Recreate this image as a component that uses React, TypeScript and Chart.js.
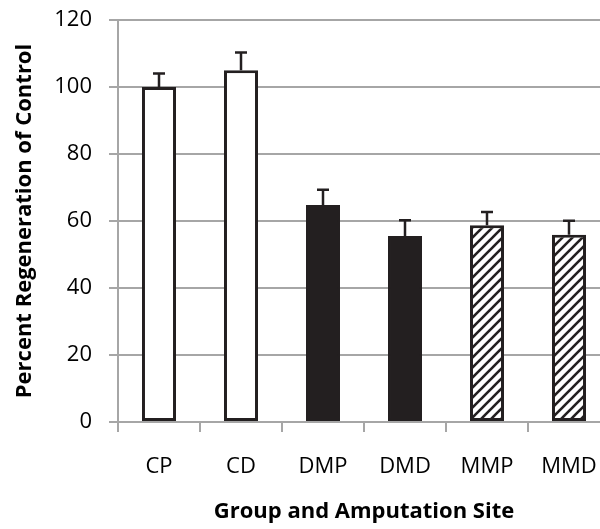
import React, { useEffect, useRef } from "react";
import { Chart, registerables } from "chart.js";

Chart.register(...registerables);

const categories = ["CP", "CD", "DMP", "DMD", "MMP", "MMD"];
const values = [100, 105, 64.8, 55.5, 58.7, 55.9];
const errors = [4, 5.3, 4.5, 4.7, 4, 4.2];
const fillKinds = ["white", "white", "black", "black", "hatch", "hatch"];
const yTitle = "Percent Regeneration of Control";
const xTitle = "Group and Amputation Site";

const FONT = "'Open Sans', sans-serif";
const DARK = "#231f20";
const GRID = "#a6a6a6";

function makeHatch(): CanvasPattern | string {
  const c = document.createElement("canvas");
  c.width = 10;
  c.height = 10;
  const g = c.getContext("2d");
  if (!g) return "#fff";
  g.fillStyle = "#fff";
  g.fillRect(0, 0, 10, 10);
  g.strokeStyle = DARK;
  g.lineWidth = 2.6;
  g.lineCap = "square";
  const seg = (x1: number, y1: number, x2: number, y2: number) => {
    g.beginPath();
    g.moveTo(x1, y1);
    g.lineTo(x2, y2);
    g.stroke();
  };
  seg(0, 10, 10, 0);
  seg(-5, 5, 5, -5);
  seg(5, 15, 15, 5);
  const p = g.createPattern(c, "repeat");
  return p || "#fff";
}

const errorBarPlugin = {
  id: "errorBars",
  afterDatasetsDraw(chart: any) {
    const ctx = chart.ctx;
    const meta = chart.getDatasetMeta(0);
    const y = chart.scales.y;
    ctx.save();
    ctx.strokeStyle = DARK;
    ctx.lineWidth = 2.5;
    meta.data.forEach((bar: any, i: number) => {
      const top = y.getPixelForValue(values[i]);
      const cap = y.getPixelForValue(values[i] + errors[i]);
      ctx.beginPath();
      ctx.moveTo(bar.x, top);
      ctx.lineTo(bar.x, cap);
      ctx.moveTo(bar.x - 6, cap);
      ctx.lineTo(bar.x + 6, cap);
      ctx.stroke();
    });
    ctx.restore();
  },
};

export default function App() {
  const ref = useRef<HTMLCanvasElement | null>(null);
  useEffect(() => {
    if (!ref.current) return;
    const hatch = makeHatch();
    const bg = fillKinds.map((k) => (k === "white" ? "#ffffff" : k === "black" ? DARK : hatch));
    const chart = new Chart(ref.current, {
      type: "bar",
      data: {
        labels: categories,
        datasets: [
          {
            data: values,
            backgroundColor: bg as any,
            borderColor: DARK,
            borderWidth: 3,
            borderSkipped: false,
            categoryPercentage: 0.415,
            barPercentage: 1,
          },
        ],
      },
      options: {
        responsive: false,
        animation: false,
        layout: { padding: { top: 20, left: 0, right: 10, bottom: 0 } },
        plugins: {
          legend: { display: false },
          tooltip: { enabled: false },
        },
        scales: {
          x: {
            offset: true,
            afterFit: (s: any) => {
              s.height = 107;
            },
            grid: {
              offset: true,
              drawOnChartArea: false,
              drawTicks: true,
              tickLength: 10,
              color: GRID,
              lineWidth: 2,
            },
            border: { display: true, color: GRID, width: 2 },
            ticks: {
              color: "#000",
              padding: 22,
              font: { family: FONT, size: 22 },
            },
            title: {
              display: true,
              text: xTitle,
              color: "#000",
              font: { family: FONT, size: 22, weight: "bold" },
              padding: { top: 0, bottom: 4 },
            },
          },
          y: {
            min: 0,
            max: 120,
            afterFit: (s: any) => {
              s.width = 118;
              s.paddingTop = 0;
            },
            ticks: {
              stepSize: 20,
              color: "#000",
              padding: 17,
              font: { family: FONT, size: 22 },
            },
            grid: {
              color: GRID,
              lineWidth: 2,
              tickLength: 9,
              drawTicks: true,
            },
            border: { display: true, color: GRID, width: 2 },
            title: {
              display: true,
              text: yTitle,
              color: "#000",
              font: { family: FONT, size: 22, weight: "bold" },
              padding: { top: 12, bottom: 0 },
            },
          },
        },
      },
      plugins: [errorBarPlugin],
    });
    return () => chart.destroy();
  }, []);
  return (
    <div style={{ position: "fixed", left: 0, top: 0, width: 600, height: 529, overflow: "hidden", background: "#fff" }}>
      <canvas ref={ref} width={620} height={529} style={{ display: "block" }} />
    </div>
  );
}
